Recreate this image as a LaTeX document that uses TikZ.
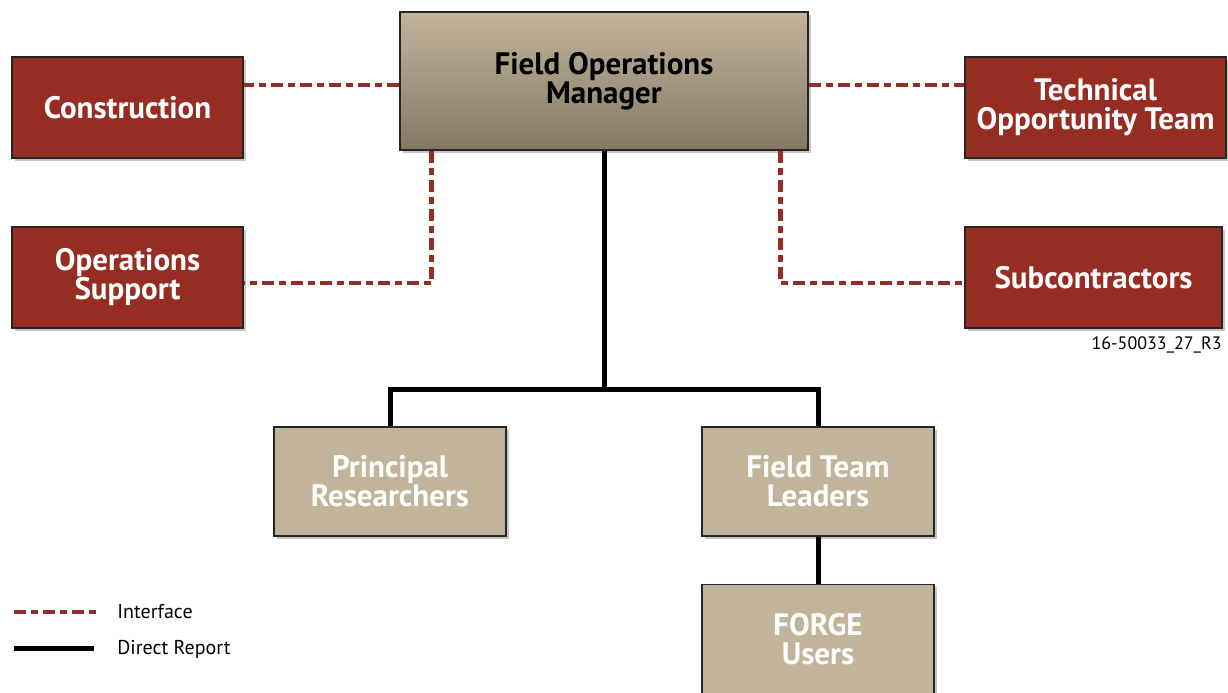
\documentclass[tikz,border=0pt]{standalone}
\usepackage{fontspec}
\setmainfont{PT Sans}
\usetikzlibrary{positioning, calc, shadows}

\definecolor{brickred}{HTML}{962D23}
\definecolor{tan}{HTML}{C2B49B}
\definecolor{tandark}{HTML}{857866}

\begin{document}
\begin{tikzpicture}[
  x=0.5pt, y=-0.5pt,
  box/.style      = {draw=black!85, line width=0.6pt, rectangle, align=center,
                     font=\bfseries\fontsize{15.5}{14.5}\selectfont,
                     drop shadow={shadow xshift=1.5pt, shadow yshift=-1.5pt, opacity=0.45}},
  redbox/.style   = {box, fill=brickred, text=white, minimum height=50.5pt},
  tanbox/.style   = {box, fill=tan, text=white!97!tan, minimum width=116pt, minimum height=54.5pt},
  interface/.style = {draw=brickred, line width=2.3pt, dash pattern=on 6pt off 2.5pt on 3.5pt off 2.5pt},
  report/.style   = {draw=black, line width=2.5pt},
  legtext/.style  = {font=\fontsize{10}{12}\selectfont, anchor=west, inner sep=0pt},
]
  \useasboundingbox (0,0) rectangle (1228,692);

  % top level
  \node[box, top color=tan, bottom color=tandark, text=black,
        minimum width=204pt, minimum height=69pt]      (fom) at (604,81)      {Field Operations\\Manager};

  % interfaces
  \node[redbox, minimum width=115.5pt]                 (con) at (127.5,107.5) {Construction};
  \node[redbox, minimum width=115.5pt]                 (ops) at (127.5,277.5) {Operations\\Support};
  \node[redbox, minimum width=130.5pt]                 (tot) at (1095.5,107.5) {Technical\\Opportunity Team};
  \node[redbox, minimum width=128.5pt]                 (sub) at (1093.5,277.5) {Subcontractors};

  % direct reports
  \node[tanbox]                                        (pr)  at (390,481.5)   {Principal\\Researchers};
  \node[tanbox]                                        (ftl) at (818,481.5)   {Field Team\\Leaders};
  \node[tanbox, below=23.5pt of ftl]                   (fu)  {FORGE\\Users};

  \node[font=\fontsize{9}{11}\selectfont, anchor=east, inner sep=0pt] (id) at (1222,345) {16-50033\_27\_R3};

  % interface lines
  \coordinate (fomw) at ([yshift=-2pt]fom.west);
  \coordinate (fome) at ([yshift=-2pt]fom.east);
  \draw[interface] (fomw) -- (fomw -| con.east);
  \draw[interface] (fome) -- (fome -| tot.west);
  \draw[interface] ([xshift=16pt]fom.south west)  |- ([yshift=-2.75pt]ops.east);
  \draw[interface] ([xshift=-14pt]fom.south east) |- ([yshift=-2.75pt]sub.west);

  % reporting lines
  \coordinate (bus) at ($(fom.south)+(0,-119.5pt)$);
  \draw[report] (fom.south) -- (bus);
  \draw[report] (pr.north) |- (bus) -| (ftl.north);
  \draw[report] (ftl.south) -- (fu.north);

  % legend
  \node[legtext] (lint) at (117,612) {Interface};
  \node[legtext] (lrep) at (117,649) {Direct Report};
  \coordinate (li0) at (14,612);
  \coordinate (lr0) at (14,648);
  \draw[interface] (li0) -- ([xshift=-10pt]lint.west);
  \draw[report]    (lr0) -- ([xshift=-11.5pt,yshift=0.5pt]lrep.west);
\end{tikzpicture}
\end{document}
